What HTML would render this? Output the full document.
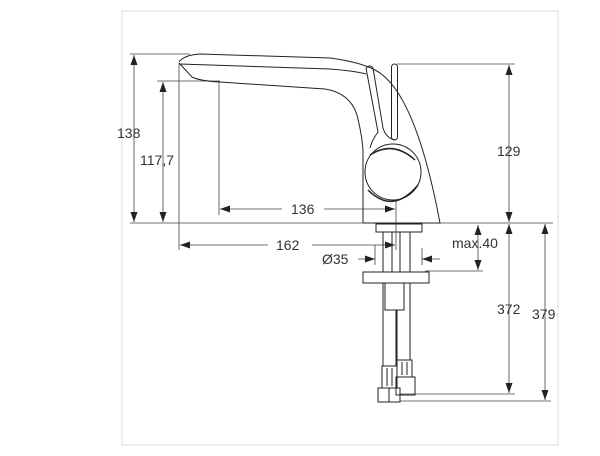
<!DOCTYPE html>
<html><head><meta charset="utf-8"><style>
html,body{margin:0;padding:0;background:#fff;}
svg{display:block;}
text{font-family:"Liberation Sans",Arial,sans-serif;font-size:14px;fill:#333;}
</style></head><body>
<svg width="600" height="456" viewBox="0 0 600 456" xmlns="http://www.w3.org/2000/svg">
<defs>
<marker id="a" viewBox="0 0 10 10" refX="10" refY="5" markerWidth="10" markerHeight="10" markerUnits="userSpaceOnUse" orient="auto-start-reverse"><path d="M0,1.5 L10,5 L0,8.5 z" fill="#222"/></marker>
</defs>
<rect x="122" y="11" width="436" height="434" fill="none" stroke="#ddd" stroke-width="1"/>
<g stroke="#444" stroke-width="0.8" fill="none">
<line x1="130" y1="223" x2="553" y2="223"/>
<line x1="130" y1="54" x2="190" y2="54"/>
<line x1="157" y1="81" x2="220" y2="81"/>
<line x1="397" y1="64" x2="515" y2="64"/>
<line x1="179" y1="64" x2="179" y2="250"/>
<line x1="219" y1="81" x2="219" y2="215"/>
<line x1="396" y1="200" x2="396" y2="250"/>
<line x1="425" y1="271" x2="483" y2="271"/>
<line x1="400" y1="394" x2="515" y2="394"/>
<line x1="400" y1="401" x2="551" y2="401"/>
<line x1="134" y1="55" x2="134" y2="222" marker-start="url(#a)" marker-end="url(#a)"/>
<line x1="163" y1="82" x2="163" y2="222" marker-start="url(#a)" marker-end="url(#a)"/>
<line x1="509" y1="65" x2="509" y2="222" marker-start="url(#a)" marker-end="url(#a)"/>
<line x1="509" y1="224" x2="509" y2="393" marker-start="url(#a)" marker-end="url(#a)"/>
<line x1="545" y1="224" x2="545" y2="400" marker-start="url(#a)" marker-end="url(#a)"/>
<line x1="478" y1="225" x2="478" y2="270" marker-start="url(#a)" marker-end="url(#a)"/>
<line x1="220" y1="209" x2="282" y2="209" marker-start="url(#a)"/>
<line x1="324" y1="209" x2="395" y2="209" marker-end="url(#a)"/>
<line x1="180" y1="245" x2="268" y2="245" marker-start="url(#a)"/>
<line x1="312" y1="245" x2="395" y2="245" marker-end="url(#a)"/>
<line x1="358" y1="259" x2="375" y2="259" marker-end="url(#a)"/>
<line x1="440" y1="259" x2="422" y2="259" marker-end="url(#a)"/>
<line x1="375" y1="245" x2="375" y2="265"/>
<line x1="422" y1="248" x2="422" y2="265"/>
</g>
<g stroke="#222" stroke-width="1" fill="none">
<path d="M179,62 Q184,55 200,54 L330,58 Q360,62 375,70"/>
<path d="M180,64 L330,69 Q355,71 366,74"/>
<path d="M179,63 L192,77 Q200,81 220,82 L325,89 Q350,93 357,115 Q362,135 363,150 L363,223"/>
<path d="M375,70 Q415,90 440,223 L363,223"/>
<path d="M366,68 Q370,64 373,68 L383,128 Q386,138 395,140"/>
<path d="M366,68 L378,132 Q372,140 370,148"/>
<rect x="391.5" y="64" width="6" height="76" rx="3"/>
<circle cx="393" cy="172" r="28"/>
<path d="M370,155 Q393,140 415,160" stroke-width="1.5"/>
<path d="M368,190 Q393,215 418,185" stroke-width="1.5"/>
<rect x="376" y="224" width="46" height="8"/>
<line x1="383" y1="232" x2="383" y2="272"/>
<line x1="410" y1="232" x2="410" y2="272"/>
<line x1="392" y1="232" x2="392" y2="272"/>
<line x1="400" y1="232" x2="400" y2="272"/>
<rect x="363" y="272" width="66" height="11"/>
<rect x="385" y="283" width="19" height="27"/>
<line x1="383" y1="283" x2="383" y2="366"/>
<line x1="396" y1="310" x2="396" y2="366"/>
<line x1="397" y1="310" x2="397" y2="360"/>
<line x1="410" y1="283" x2="410" y2="360"/>
<rect x="397" y="360" width="15" height="17"/>
<line x1="402" y1="362" x2="402" y2="375"/><line x1="407" y1="362" x2="407" y2="375"/>
<rect x="396" y="377" width="19" height="18"/>
<rect x="382" y="366" width="15" height="22"/>
<line x1="387" y1="368" x2="387" y2="386"/><line x1="392" y1="368" x2="392" y2="386"/>
<rect x="378" y="388" width="22" height="14"/>
<line x1="389" y1="388" x2="389" y2="402"/>
</g>
<text x="117" y="138">138</text>
<text x="140" y="165">117,7</text>
<text x="291" y="214">136</text>
<text x="276" y="250">162</text>
<text x="322" y="264">Ø35</text>
<text x="452" y="248">max.40</text>
<text x="497" y="156">129</text>
<text x="497" y="314">372</text>
<text x="532" y="319">379</text>
</svg>
</body></html>
